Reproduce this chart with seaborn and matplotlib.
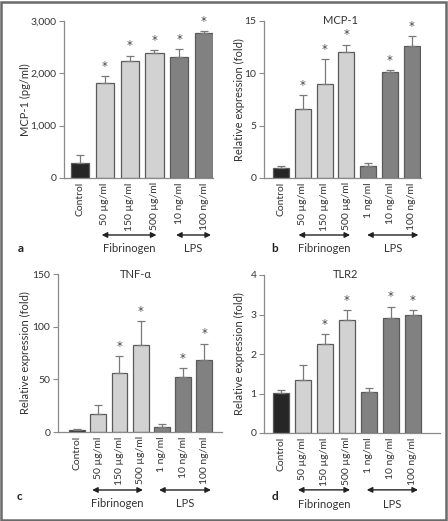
import matplotlib
matplotlib.use("Agg")
import matplotlib.pyplot as plt
import matplotlib.transforms as mtransforms
from matplotlib.patches import Rectangle
import seaborn as sns
import pandas as pd
import numpy as np

sns.set_style("ticks")
plt.rcParams['font.family'] = ['Lato', 'DejaVu Sans']

# ---------------- data ----------------
labels_a = ["Control", "50 µg/ml", "150 µg/ml", "500 µg/ml", "10 ng/ml", "100 ng/ml"]
groups_a = ["ctrl", "fib", "fib", "fib", "lps", "lps"]
vals_a = [290, 1820, 2240, 2380, 2320, 2780]
errs_a = [140, 130, 100, 60, 150, 30]
sig_a = [False, True, True, True, True, True]

labels_7 = ["Control", "50 µg/ml", "150 µg/ml", "500 µg/ml", "1 ng/ml", "10 ng/ml", "100 ng/ml"]
groups_7 = ["ctrl", "fib", "fib", "fib", "lps", "lps", "lps"]

vals_b = [1.0, 6.6, 9.0, 12.0, 1.1, 10.1, 12.6]
errs_b = [0.1, 1.3, 2.35, 0.75, 0.3, 0.25, 1.0]
sig_b = [False, True, True, True, False, True, True]

vals_c = [1.5, 17, 56, 83, 5, 52, 68]
errs_c = [1.0, 9, 16, 22, 3, 9, 16]
sig_c = [False, False, True, True, False, True, True]

vals_d = [1.02, 1.35, 2.25, 2.85, 1.03, 2.9, 3.0]
errs_d = [0.08, 0.38, 0.26, 0.27, 0.12, 0.3, 0.12]
sig_d = [False, False, True, True, False, True, True]

palette = {"ctrl": "#262626", "fib": "#d2d2d2", "lps": "#818181"}
edge = "#5a5a5a"
axcol = "#8a8a8a"

W, H = 448, 521
fig = plt.figure(figsize=(W / 100, H / 100), dpi=100)

def px_axes(l, r, t, b):
    return fig.add_axes([l / W, 1 - b / H, (r - l) / W, (b - t) / H])

panels = [
    dict(box=(64, 213, 21, 178), labels=labels_a, groups=groups_a, vals=vals_a, errs=errs_a,
         sig=sig_a, ylim=(0, 3000), yticks=[0, 1000, 2000, 3000],
         yticklabels=["0", "1,000", "2,000", "3,000"], ylabel="MCP-1 (pg/ml)",
         xlim=(-0.65, 5.36), width=0.73, title=None, tx=0.5, letter="a",
         arrows=[(0.87, 3.08, "Fibrinogen"), (3.87, 5.28, "LPS")], ay=-0.363, ty=-0.45,
         ylx=25, lx=21, ly=248),
    dict(box=(264, 421, 21, 178), labels=labels_7, groups=groups_7, vals=vals_b, errs=errs_b,
         sig=sig_b, ylim=(0, 15), yticks=[0, 5, 10, 15], yticklabels=["0", "5", "10", "15"],
         ylabel="Relative expression (fold)", xlim=(-0.78, 6.42), width=0.73, title="MCP-1",
         tx=0.49, letter="b",
         arrows=[(0.8, 3.17, "Fibrinogen"), (3.95, 6.3, "LPS")], ay=-0.363, ty=-0.45,
         ylx=239, lx=275, ly=248),
    dict(box=(58, 222, 274, 432), labels=labels_7, groups=groups_7, vals=vals_c, errs=errs_c,
         sig=sig_c, ylim=(0, 150), yticks=[0, 50, 100, 150], yticklabels=["0", "50", "100", "150"],
         ylabel="Relative expression (fold)", xlim=(-0.9, 6.84), width=0.75, title="TNF-α",
         tx=0.476, letter="c",
         arrows=[(0.71, 3.11, "Fibrinogen"), (3.87, 6.32, "LPS")], ay=-0.367, ty=-0.45,
         ylx=25, lx=19, ly=497),
    dict(box=(264, 440, 275, 433), labels=labels_7, groups=groups_7, vals=vals_d, errs=errs_d,
         sig=sig_d, ylim=(0, 4), yticks=[0, 1, 2, 3, 4], yticklabels=["0", "1", "2", "3", "4"],
         ylabel="Relative expression (fold)", xlim=(-0.77, 7.23), width=0.7, title="TLR2",
         tx=0.466, letter="d",
         arrows=[(0.77, 3.14, "Fibrinogen"), (3.9, 6.23, "LPS")], ay=-0.36, ty=-0.45,
         ylx=239, lx=275, ly=497),
]

for p in panels:
    l, r, t, b = p["box"]
    ax = px_axes(l, r, t, b)
    df = pd.DataFrame({"label": p["labels"], "value": p["vals"], "group": p["groups"]})
    sns.barplot(data=df, x="label", y="value", hue="group", palette=palette, dodge=False,
                width=p["width"], edgecolor=edge, linewidth=0.9, legend=False, ax=ax,
                errorbar=None)
    x = np.arange(len(p["vals"]))
    vals = np.array(p["vals"], dtype=float)
    errs = np.array(p["errs"], dtype=float)
    ax.errorbar(x, vals, yerr=[np.zeros_like(errs), errs], fmt="none", ecolor="#7a7a7a",
                elinewidth=0.9, capsize=3.2, capthick=0.9, zorder=1)
    span = p["ylim"][1] - p["ylim"][0]
    for xi, v, e, s in zip(x, vals, errs, p["sig"]):
        if s:
            ax.text(xi, v + e + span * 0.02, "*", ha="center", va="bottom", fontsize=8.5,
                    color="#444444", fontfamily="DejaVu Sans")
    ax.set_xlim(*p["xlim"])
    ax.set_ylim(*p["ylim"])
    ax.set_yticks(p["yticks"])
    ax.set_yticklabels(p["yticklabels"])
    ax.set_xticks(x)
    ax.set_xticklabels(p["labels"], rotation=90)
    ax.set_xlabel("")
    ax.set_ylabel("")
    sns.despine(ax=ax)
    for sp in ["left", "bottom"]:
        ax.spines[sp].set_color(axcol)
        ax.spines[sp].set_linewidth(0.9)
    ax.tick_params(axis="y", length=3.5, width=0.8, color=axcol, labelsize=7.5, pad=2,
                   labelcolor="#333333")
    ax.tick_params(axis="x", length=0, labelsize=7.5, pad=3, labelcolor="#333333")
    ax.patch.set_alpha(0)
    if p["title"]:
        ax.text(p["tx"], 1.0, p["title"], transform=ax.transAxes, ha="center", va="center",
                fontsize=8, color="#333333")
    trans = mtransforms.blended_transform_factory(ax.transData, ax.transAxes)
    for x0, x1, name in p["arrows"]:
        ax.annotate("", xy=(x0, p["ay"]), xytext=(x1, p["ay"]), xycoords=trans,
                    textcoords=trans,
                    arrowprops=dict(arrowstyle="<|-|>", color="#222222", lw=1.0,
                                    mutation_scale=8, shrinkA=0, shrinkB=0),
                    annotation_clip=False)
        ax.text((x0 + x1) / 2, p["ty"], name, transform=trans, ha="center", va="center",
                fontsize=8, color="#333333", clip_on=False)
    fig.text(p["ylx"] / W, 1 - ((t + b) / 2) / H, p["ylabel"], rotation=90, ha="center",
             va="center", fontsize=8, color="#333333")
    fig.text(p["lx"] / W, 1 - p["ly"] / H, p["letter"], ha="center", va="center",
             fontsize=8.5, fontweight="bold", color="#222222")

fig.patches.append(Rectangle((1 / W, 1 / H), (W - 3) / W, (H - 3) / H, transform=fig.transFigure,
                             fill=False, edgecolor="#6a6a6a", linewidth=1.8))

fig.savefig("out.png", dpi=100)
